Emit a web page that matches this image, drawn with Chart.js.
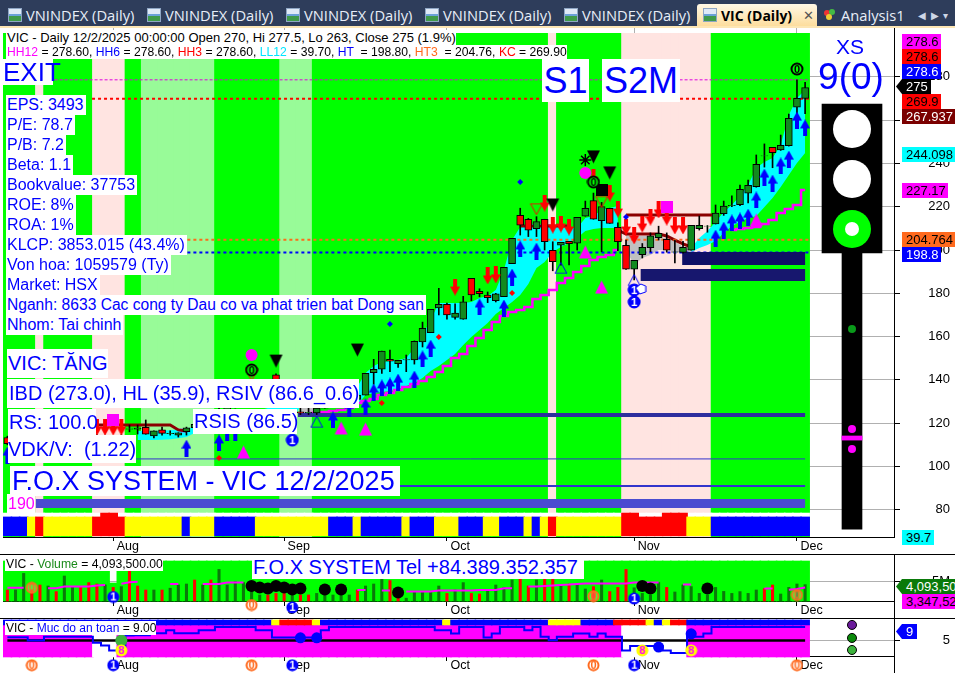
<!DOCTYPE html>
<html><head><meta charset="utf-8">
<script src="https://cdn.jsdelivr.net/npm/chart.js@4"></script>
<style>
html,body{margin:0;padding:0;background:#fff;width:955px;height:673px;overflow:hidden;font-family:"Liberation Sans",Arial,sans-serif}
canvas{position:absolute;left:0;display:block}
.t{position:absolute;background:#fff;color:#0000ff;white-space:pre;z-index:5;line-height:1;box-sizing:border-box}
.r{position:absolute;height:1px;background:#000;z-index:6}
.p{position:absolute;left:902px;height:15px;line-height:15px;font-size:13px;padding-left:4px;box-sizing:border-box;z-index:7;white-space:pre;overflow:hidden}
.a{position:absolute;left:896px;width:6px;height:15px;z-index:7;clip-path:polygon(100% 0,0 50%,100% 100%)}
#tabs{position:absolute;left:0;top:0;width:955px;height:27px;background:#2e3d5b;z-index:8;font-family:"Open Sans","Noto Sans",sans-serif}
.tab{position:absolute;top:7px;color:#e8eef8;font-size:14.7px;line-height:17px;white-space:pre}
.ic{position:absolute;top:8px;width:14px;height:14px;background:linear-gradient(#dfe9f7 0 40%,#6aa0d8 40% 60%,#3f9a4a 60%);border:1px solid #8fa6c4;box-sizing:border-box}
</style></head><body>
<div id="tabs">
<div class="ic" style="left:8px"></div><div class="tab" style="left:26px">VNINDEX (Daily)</div>
<div class="ic" style="left:147px"></div><div class="tab" style="left:165px">VNINDEX (Daily)</div>
<div class="ic" style="left:286px"></div><div class="tab" style="left:304px">VNINDEX (Daily)</div>
<div class="ic" style="left:425px"></div><div class="tab" style="left:443px">VNINDEX (Daily)</div>
<div class="ic" style="left:564px"></div><div class="tab" style="left:582px">VNINDEX (Daily)</div>
<div style="position:absolute;left:697px;top:4px;width:120px;height:23px;background:linear-gradient(#fff8e6,#fddc9a);border-radius:3px 3px 0 0"></div>
<div class="ic" style="left:703px"></div>
<div class="tab" style="left:721px;color:#000;font-weight:700;font-size:14px">VIC (Daily)</div>
<div class="tab" style="left:803px;color:#555;font-size:13px">✕</div>
<div style="position:absolute;left:824px;top:10px;width:6px;height:6px;border-radius:3px;background:#e33"></div>
<div style="position:absolute;left:829px;top:9px;width:6px;height:6px;border-radius:3px;background:#4b4"></div>
<div style="position:absolute;left:826px;top:14px;width:6px;height:6px;border-radius:3px;background:#ec3"></div>
<div class="tab" style="left:841px">Analysis1</div>
<div class="tab" style="left:918px;font-size:10px;color:#cdd6e6">◀</div>
<div class="tab" style="left:931px;font-size:10px;color:#cdd6e6">▶</div>
<div class="tab" style="left:943px;font-size:10px;color:#cdd6e6">▾</div>
<div style="position:absolute;left:0;top:26px;width:955px;height:2px;background:#fde6b4"></div>
</div>
<canvas id="c1" width="955" height="527" style="top:27px"></canvas>
<canvas id="c2" width="955" height="64" style="top:554px"></canvas>
<canvas id="c3" width="955" height="54" style="top:619px"></canvas>
<div class="r" style="left:0;top:554px;width:955px"></div>
<div class="r" style="left:0;top:618px;width:955px"></div>
<div id="labels"></div>
<script>
// ---------- candle data (bar index 0 .. 98) ----------
const opens=[113.4,110.6,112,113,112,111,112.5,111.5,113.5,115,113.5,114,113,112,113.5,117.3,117.3,118.1,114.1,116.9,115.2,114.5,116.1,117.9,119.5,121,123.5,126,128,130,132,135,134,142.3,137,134,125.2,124.7,124.7,127,128,129,130,131,133,143.3,144.9,149.5,147.5,149.2,149.2,157.5,161.8,173.3,174.9,168.9,168.1,186.9,180.9,179.2,176.6,178.4,193.7,216,214.2,209.8,214.2,199.9,202.2,204,203.1,215.6,222.8,213.5,219.3,210.5,202.2,191.1,197.8,201.1,205.7,204.9,199,198.9,199.9,209.8,211,212.1,216.8,220.5,220.9,226.2,229.2,243.4,247.4,246.2,248.2,266,270];
const highs=[114,112.5,113.5,114.5,113,113,114,114,115.5,116,115,114.8,114.5,114,114.7,119.2,119.2,121.5,116.5,118.2,116.5,115.6,118.2,120,122,124,127,129,131,133,136,138,137,142.8,139,135.5,127,127,127.5,129,130,131,132,135,143,149.5,153.3,153.8,149,151.5,158,166.7,172.6,182.3,175.5,175.1,178.6,186.9,182.1,180.6,180,192,205.4,219.3,214.6,215.4,214.2,203.8,203.6,204,215.1,222.6,226.3,222,219.3,212.5,204.6,195.2,203,207.9,211,207.9,204.6,204,211.4,215.7,211.3,220.8,222.6,225,230,232.3,243.9,249,247.4,253.1,262.8,278.6,277.5];
const lows=[110,109.5,110.5,111.5,110,110,111,111,113,113,112.5,112,111,110,112.5,116,115,114.9,113.2,114.5,114.5,113.6,114.5,117,118.5,120,122.5,125,127,129,131,133,132,137,133,129,124,124,124,127,127.5,127.5,128,128,133,138,143,143.8,145.8,143.8,147.3,155.2,161.8,170,168.1,168,168,176.6,178.4,175.7,176,178.4,193.7,206.9,206.2,206.2,200,190.4,193,193.1,200,215.6,214.2,199.2,212.3,199.7,191,186.2,196.3,199.2,204.6,199,194,198.5,199.9,209.2,208.2,212,216,220,220.5,221.7,229,238.3,238,246,248,261,263];
const closes=[110.6,111.8,113,112,111,112.5,111.5,113.5,115,113.5,114,113,112,113.5,114.2,117.4,117.8,114.9,116.5,115.3,115.3,115.6,117.9,119.5,121,123.5,126,128,130,132,135,134,136,138,134,130,124.7,125,127,128.5,129,130,131,133,143,144.9,153.3,148.6,149,149.4,157.8,163.8,172.6,174.9,170,170.9,176.1,179.2,179.8,178,179.7,192,205.4,211.5,209.2,213.1,203.8,194.6,203.6,202.9,215.1,219.3,214.2,220,212.3,203.8,191.1,195.2,201.2,206.6,207.7,199.9,199.1,201.2,211.4,211.4,211.1,217,220.3,220.6,228,229.9,239.6,243.5,245,248.4,260.8,270,275];
// ---------- background codes per bar, as runs ----------
const zoneRuns=[['L',4],['P',1],['L',6],['P',4],['L',2],['G',9],['L',8],['G',4],['L',29],['P',1],['L',8],['P',11],['L',12]];
const bandRuns=[['B',3],['Y',1],['R',1],['Y',6],['R',4],['Y',7],['B',1],['Y',3],['B',5],['Y',9],['B',3],['Y',1],['B',5],['Y',1],['B',3],['Y',3],['B',3],['Y',2],['B',3],['Y',1],['B',1],['Y',1],['R',1],['Y',8],['R',8],['Y',3],['B',12]];
const bandTallBars=[12,13,76,77,81,82,83];
const safetyZoneRuns=[['M',11],['W',3],['M',62],['W',8],['M',15]];
const safetyStripRuns=[['B',33],['Y',1],['R',4],['Y',1],['B',15],['Y',1],['B',12],['Y',4],['B',4],['R',4],['Y',1],['B',1],['Y',1],['R',2],['B',15]];
// ---------- bands and lines ----------
const cyanTopA=[116.4,116.4,116.4,116.6,116.8,117.2,117.8,118,119,120,121,122,123,124,125,126,127,128,129,130,130,131,131,132,133,134,135,137,143.2,146.4,148.3,148.7,149.2,150.1,154.7,160.7,167.7,175.5,175.5,175.5,175.5,176,177.8,178.8,181.5,190.8,204.6,210.6,212,212,212,211.5,211.1,210.2,210.2,214.8,215.7,218.5,219.4,220.3];
const cyanBotA=[112.2,112.2,112.2,112.4,112.6,113,113.6,115.5,116,116.5,117,117.5,118,118.5,119,119.5,120,120.5,121,121.5,128,128,128,128,128,128,128,128.5,133,134,134.4,134.9,135.8,137.2,138.6,140.9,144.1,146.4,149.2,152,156.1,159.8,163,166.3,170.4,173.2,176,179.2,184.3,191.7,194.5,199.1,201.4,203.2,205.5,208.8,209.7,210.2,210.2,210.2];
const cyanTopB=[200.9,205.5,208.8,212.9,217.6,220.8,224.9,230,237.9,240.6,242.5,248.5,262.4,270.2,273.9];
const cyanBotB=[199.1,200.9,202.3,204.2,207.9,211.1,212.9,214.8,215.7,219.9,224,229.1,234.6,240.2,244.8];
const greyTopA=[127,127,127],greyBotA=[124.7,124.7,124.7];
const greyTopB=[206.9,206.5,206.5,206.5,206,205.5,204.2,201.4,200];
const greyBotB=[200,193.1,196.3,197.7,200,200,199.1,199.1,199.1];
const stopA=[124.7,124.7,125.2,125.6,126.1,127,129.3,130.2,131.2,133,133.9,135.3,136.7,138.1,139.5,141.3,143.6,146.4,150.1,152,155.7,159.4,163,166.7,169.5,171.4,172.3,173.7,177.4,179.2,181.5,184.8,187.1,189.8,192.6,195.4,196.8,197.7,200];
const stopB=[209.2,209.7,210.2,210.6,212,213.9,217.1,218.9,220.8,227.7];
const stopC=[116.9,116.4];
const trendA=[119.2,119.2,119.2,119.2,119.2,119.2,119.2,119.2,119.2,119.2,116.9,116.4];
const trendB=[211.1,211.1,211.1,211.1,211.1,211.1,211.1];
const trendC=[216.2,216.2,216.2,216.2,216.2,216.2,216.2,216.2,216.2,216.2,216.2,216.2];
const trendD=[209.2,207.4,207.4,207.4,207.4,207.4,206.5,204.6,202.8,201.4];
// ---------- horizontal levels ----------
const dottedLevels=[278.6,269.9,204.76,198.8];
const barLevels=[196.1,188.5,123.8,103.5,91,82.9];
const barLevelStart=[82.9,77.8,35.7,15.8,48.2,3.5];
// ---------- markers ----------
const upBars=[0,22,26,27,28,40,42,44,45,46,47,48,50,51,52,58,61,62,63,65,87,88,89,90,91,92,93,94,95,96,97,98];
const upVals=[105.3,108.5,110.9,115.5,115.5,121.5,127,127.5,134.4,136.3,137.2,139,140.4,149.7,154.7,173.7,173.2,187.5,200.5,199.5,205.5,209.2,212.5,213.4,215.2,223.1,233.7,230.9,238.8,242,260,256.4];
const downBars=[11,12,13,14,55,59,60,66,67,68,69,72,74,75,76,77,78,79,80,81,82,83];
const downVals=[118.2,118.2,118.2,118.2,182.9,188,188.5,221.7,211.5,212,210.6,233.7,226.3,218.9,210.6,206.5,212,215.2,218.5,215.2,211.1,211.1];
const blackTriBars=[33,43,67,72,74],blackTriVals=[148.7,153.8,220.8,243,235.6];
const magTriBars=[29,41,44,71,73,92],magTriVals=[106.7,117.8,117.3,199.1,182.9,213.9];
const redOutBars=[30,65,73],redOutVals=[142.3,218.9,222.2];
const blueOutBars=[38,68,77],blueOutVals=[120.6,191.7,186.1];
const magDotBars=[30,71],magDotVals=[151.5,235.6];
const magSqBars=[13,81],magSqVals=[121.5,219.9];
const blackSqBars=[73],blackSqVals=[227.7];
const starBars=[71],starVals=[241.6];
const blueDiaBars=[47,63,76],blueDiaVals=[165.8,231.4,215.2];
const redDiaBars=[26,46,53,62],redDiaVals=[103.9,129.3,159.8,180.1];
const zeroBars=[30,72,97],zeroVals=[144.6,231.4,283.6];
const oneBars=[35,77,77],oneVals=[112.2,181.5,176];
const cursorBars=[77.8],cursorVals=[182];
// ---------- side gauge, on the same scales ----------
const gaugeBar=103.76;
const gaugeBox=[198.6,267.4],gaugePole=[71.1,198.6],gaugeDash=[112.2,114.1];
const lampWhite=[255.9,232.8],lampGreen=[209.7],lampCore=[209.7],gaugeGreen=[163.5],gaugeMagenta=[117.3,108.1];
// ---------- axes ----------
const monthNames=['Aug','Sep','Oct','Nov','Dec'];
const monthBars=[13,34,54,77,97];
const priceTicks=[80,100,120,140,160,180,200,220,240,260,280];
// ---------- volume pane ----------
const volumes=[2.75,2.75,6.9,2.75,4,3.75,2.35,6.25,3.6,3.6,4.6,4.25,4,3.4,3.6,7.5,3.75,2.75,2.75,2.75,3.2,4,4.25,5.25,4,5.25,7.9,4,4.85,4.6,2.75,1.5,1.5,1.9,1.9,1.5,1.5,1.5,1.9,1.9,1.5,1.5,1.5,2.75,3.75,4.25,5.4,5.1,1.5,0.7,2.35,2.35,2.35,3.75,1.9,2.75,4.6,1.9,1.75,2.75,4,3.4,5.25,5.5,3.75,5.25,5.5,5.5,3.75,4.25,4.4,3,3.6,5.25,2.35,3.4,7.9,3.3,1.9,1.5,4.6,3.4,2.25,4,3.6,1.9,1.5,3.4,2.4,1.9,2.35,1.9,2.75,3.1,4,1.75,3.4,4.25,4.09];
const volumeReds=[0,3,4,6,9,10,11,13,15,16,17,19,23,25,32,33,34,36,37,43,47,48,54,57,58,63,64,66,67,69,72,74,75,76,81,93,94];
const volMaBars=[0,1,2,3,5,6,7,8,9,10,11,12,13,14,15,16,17,20,21,22,24,25,26,27,28,29,30,43,44,45,46,47,48,49,50,51,52,53,54,55,56,57,58,59,60,61,62,63,64,65,66,67,68,69,70,71,72,73,74,75,76,77,78,79,80,81,83,84,85,93,94,95,96,97,98];
const volMaVals=[3.33,3.33,3.33,null,3.17,3.17,3.6,3.6,3.6,3.6,3.9,4,null,4.3,4.7,4.8,null,4.25,4.25,null,4.25,4.25,4.25,4.6,4.6,4.6,null,2.75,2.75,null,2.6,2.6,null,2.35,2.35,2.35,2.35,2.6,2.6,2.6,2.6,2.6,2.75,2.75,2.75,3.2,3.2,null,3.6,3.6,3.75,3.9,4,4.1,4.25,4.4,4.4,4.4,4.4,4.4,4.4,4.6,4.6,4.6,4.6,null,4.1,4.1,null,3.1,3.1,null,2.8,3,3.35];
const volDotBars=[30,31,32,33,34,35,36,39,41,48,78,79,86];
const volDotVals=[3.75,3.4,3.15,3.75,3.4,2.9,3.15,2.9,2.9,2.15,3.75,3.15,3.15];
const volZeroBars=[3,30,72,97],volZeroVals=[3.3,-1,1.2,1.5];
const volOneBars=[13,35,77],volOneVals=[1,-1.6,0.6];
const volTicks=[5];
// ---------- safety pane ----------
const safety=[6,6,6,5,5,6.1,6.1,6.1,6.1,6.1,6.1,4.3,3.5,2,2,6.5,6.6,6.6,7.2,7.2,8.1,7.2,7.2,7.2,8.1,8.1,9.1,9.1,9.1,9.1,9.1,8.1,8.1,5.9,5.9,5.9,5.9,5.9,5.9,8.1,9.1,9.1,9.1,9.1,9.1,9.1,9.1,9.1,9.1,9.1,9.1,9.1,9.1,8.1,8.1,7.1,9.1,9.1,9.1,5.9,7.1,9.1,9.1,9.1,8.1,9.1,6.1,5.1,6.1,6.1,7.1,7.1,6.1,7.1,6.1,6.1,2,3.3,3.3,3.3,3.3,2,1.2,1.2,7.1,6.1,7.1,9.1,9.1,9.1,9.1,9.1,9.1,9.1,9.1,9.1,9.1,9.1,9.1];
const safetyMid=5;
const safeBlueBars=[36,38,80,84],safeBlueVals=[5.8,5.8,3,7];
const safeGreenBars=[14],safeGreenVals=[5];
const safeEightBars=[14,78,84],safeEightVals=[2,2,2];
const safeZeroBars=[3,30,72,97],safeZeroVals=[-2.5,-2.5,-2.5,-2.5];
const safeOneBars=[13,35,77],safeOneVals=[-2.5,-2.5,-2.5];
const safeSideVals=[9.7,5.76,2.12];
const safeTicks=[5];
// ---------- text ----------
const stats=['EPS: 3493','P/E: 78.7','P/B: 7.2','Beta: 1.1','Bookvalue: 37753','ROE: 8%','ROA: 1%','KLCP: 3853.015 (43.4%)','Von hoa: 1059579 (Ty)','Market: HSX','Nganh: 8633 Cac cong ty Dau co va phat trien bat Dong san','Nhom: Tai chinh'];
const pills=[['278.6','#ff00ff','#000',34,39],['278.6','#ff0000','#000',49,39],['278.6','#0000ff','#fff',64,39],['275','#000','#fff',79,29],['269.9','#ff0000','#000',94,39],['267.937','#7b0000','#fff',109,53],['244.098','#00ffff','#000',147,53],['227.17','#ff00ff','#000',183,46],['204.764','#ff6a1e','#000',232,53],['198.8','#0000ff','#fff',247,39],['39.7','#00ffff','#000',530,32],['4,093,500','#0a7a0a','#fff',579,53],['3,347,520','#ff00ff','#000',594,53],['9','#0000ff','#fff',624,15]];

// ---------- helpers ----------
const expand=r=>r.flatMap(([c,n])=>Array(n).fill(c));
const seq=(start,vals)=>vals.map((y,k)=>({x:start+k,y}));
const pick=(b,v)=>b.map((x,k)=>({x,y:v[k]}));
const Z={L:'#00ff00',G:'#98fb98',P:'#ffe4e1',B:'#0000ff',Y:'#ffff00',R:'#ff0000',M:'#ff00ff',W:'#ffffff'};
function img(w,h,f){const c=document.createElement('canvas');c.width=w;c.height=h;f(c.getContext('2d'),w,h);return c}
const arrow=(col,up)=>img(10,17,(g,w,h)=>{g.fillStyle=col;g.beginPath();
 if(up){g.moveTo(5,0);g.lineTo(10,9);g.lineTo(7,9);g.lineTo(7,17);g.lineTo(3,17);g.lineTo(3,9);g.lineTo(0,9)}
 else{g.moveTo(5,17);g.lineTo(10,8);g.lineTo(7,8);g.lineTo(7,0);g.lineTo(3,0);g.lineTo(3,8);g.lineTo(0,8)}
 g.closePath();g.fill()});
const tri=(fill,stroke,down,w0,h0)=>img(w0,h0,(g,w,h)=>{g.beginPath();
 if(down){g.moveTo(1,1);g.lineTo(w-1,1);g.lineTo(w/2,h-1)}else{g.moveTo(w/2,1);g.lineTo(w-1,h-1);g.lineTo(1,h-1)}
 g.closePath();if(fill){g.fillStyle=fill;g.fill()}if(stroke){g.strokeStyle=stroke;g.lineWidth=1;g.stroke()}});
const badge=(d,bg,ring,fg,r)=>img(2*r+2,2*r+2,(g)=>{g.beginPath();g.arc(r+1,r+1,r-0.5,0,7);g.fillStyle=bg;g.fill();g.lineWidth=2;g.strokeStyle=ring;g.stroke();
 g.fillStyle=fg;g.font='bold 11px "Liberation Sans"';g.textAlign='center';g.textBaseline='middle';g.fillText(d,r+1,r+1.5)});
const square=(c,s)=>img(s,s,g=>{g.fillStyle=c;g.fillRect(0,0,s,s)});
const cursorMark=img(12,12,g=>{g.fillStyle='#fff';g.strokeStyle='#0000ff';g.lineWidth=1;g.beginPath();g.moveTo(1,5);g.lineTo(6,1);g.lineTo(11,3);g.lineTo(11,9);g.lineTo(5,11);g.closePath();g.fill();g.stroke()});
const pts=(data,style,extra={})=>Object.assign({type:'line',showLine:false,data,pointStyle:style,pointRadius:7,pointBorderWidth:0,pointBackgroundColor:'#000',pointBorderColor:'#000'},extra);
const dots=(data,col,r,extra={})=>pts(data,'circle',Object.assign({pointRadius:r,pointBackgroundColor:col,pointBorderColor:col},extra));
const line=(data,col,w,extra={})=>Object.assign({type:'line',data,borderColor:col,borderWidth:w,pointRadius:0,spanGaps:false},extra);
const bar=(data,col,w,extra={})=>Object.assign({type:'bar',data,backgroundColor:col,barThickness:w,grouped:false,borderWidth:0,borderSkipped:false},extra);
const area=(top,bot,start,col)=>[line(seq(start,top),'rgba(0,0,0,0)',0),line(seq(start,bot),'rgba(0,0,0,0)',0,{fill:'-1',backgroundColor:col})];
const FONT={family:'"Liberation Sans",Arial,sans-serif',size:12.5};
const X_MIN=-0.538,X_MAX=108.92;
function xAxis(extra,pad){return Object.assign({type:'linear',offset:false,min:X_MIN,max:X_MAX,
  afterBuildTicks:s=>{s.ticks=monthBars.map(v=>({value:v}))},
  ticks:{autoSkip:false,maxRotation:0,align:'start',padding:pad,color:'#000',font:FONT,callback:v=>' '+(monthNames[monthBars.indexOf(v)]||'')},
  grid:{offset:false,drawOnChartArea:false,color:'#000',tickLength:4},
  border:{display:true,color:'#000',width:1}},extra)}
function yAxis(min,max,ticks,fmt){return {type:'linear',position:'right',min,max,
  afterFit:s=>{s.width=56;s.paddingTop=0;s.paddingBottom=0},afterBuildTicks:s=>{s.ticks=ticks.map(v=>({value:v}))},
  ticks:{crossAlign:'far',color:'#000',font:Object.assign({},FONT,{size:13}),padding:0,callback:fmt},
  grid:{color:'#b0b0b0',borderDash:[1,3],tickColor:'#000',tickBorderDash:[],tickLength:6},
  border:{display:true,color:'#000',width:1}}}
function make(id,datasets,scales){
  datasets.forEach((d,i)=>{d.order=datasets.length-i});
  return new Chart(document.getElementById(id),{type:'bar',data:{datasets},options:{
    responsive:false,animation:false,devicePixelRatio:1,
    layout:{autoPadding:false,padding:{left:3,right:5,top:0,bottom:0}},
    plugins:{legend:{display:false},tooltip:{enabled:false},title:{display:false}},
    scales}})}

// ---------- main pane ----------
const N=opens.length,idx=[...Array(N).keys()];
const zones=expand(zoneRuns),band=expand(bandRuns);
const PANE_LO=67.44,PANE_HI=303;
const isUp=i=>closes[i]>=opens[i];
const main=[
  bar(idx.map(i=>({x:i,y:[PANE_LO,300.1]})),zones.map(c=>Z[c]),9),
  bar(idx.map(i=>({x:i,y:[76.7,78.5]})),'#ffffff',9),
  bar(idx.map(i=>({x:i,y:[68,bandTallBars.includes(i)?78.5:76.7]})),band.map(c=>Z[c]),9),
  ...area(cyanTopA,cyanBotA,16,'#00ffff'),
  ...area(cyanTopB,cyanBotB,84,'#00ffff'),
  ...area(greyTopA,greyBotA,36,'#c0c0c0'),
  ...area(greyTopB,greyBotB,76,'#c0c0c0'),
  line(seq(37,stopA),'#ff00ff',2.5,{stepped:'middle'}),
  line(seq(89,stopB),'#ff00ff',2.5,{stepped:'middle'}),
  line(seq(21,stopC),'#ff00ff',2.5,{stepped:'middle'}),
  line(seq(11,trendA),'#8b0000',3),
  line(seq(63,trendB),'#8b0000',3),
  line(seq(76,trendC),'#8b0000',3),
  line(seq(75,trendD),'#8b0000',3),
  line([{x:5.8,y:dottedLevels[0]},{x:98.5,y:dottedLevels[0]}],'#e000e0',1,{borderDash:[3,2]}),
  line([{x:10.4,y:dottedLevels[1]},{x:98.5,y:dottedLevels[1]}],'#ff0000',2,{borderDash:[3,3]}),
  line([{x:0,y:dottedLevels[2]},{x:98.5,y:dottedLevels[2]}],'#ff6a1e',2,{borderDash:[3,3]}),
  line([{x:0,y:dottedLevels[3]},{x:98.5,y:dottedLevels[3]}],'#0000ff',2,{borderDash:[3,3]}),
  line([{x:barLevelStart[0],y:barLevels[0]},{x:98,y:barLevels[0]}],'#0f0f66',13),
  line([{x:barLevelStart[1],y:barLevels[1]},{x:98,y:barLevels[1]}],'#17176e',12),
  line([{x:barLevelStart[2],y:barLevels[2]},{x:98,y:barLevels[2]}],'#2e2e9e',4),
  line([{x:barLevelStart[3],y:barLevels[3]},{x:98,y:barLevels[3]}],'#3333cc',1),
  line([{x:barLevelStart[4],y:barLevels[4]},{x:98,y:barLevels[4]}],'#3333cc',2),
  line([{x:barLevelStart[5],y:barLevels[5]},{x:98,y:barLevels[5]}],'#4b4bd0',9),
  bar(idx.map(i=>({x:i,y:[lows[i],highs[i]]})),'#000',1),
  bar(idx.map(i=>({x:i,y:[Math.min(opens[i],closes[i]),Math.max(opens[i],closes[i])]})),idx.map(i=>isUp(i)?'#128a1e':'#ff0000'),7,{borderWidth:1,borderColor:'#000'}),
  pts(pick(upBars,upVals),arrow('#0000ff',true)),
  pts(pick(downBars,downVals),arrow('#ff0000',false)),
  pts(pick(magTriBars,magTriVals),tri('#ff00ff',null,false,15,15)),
  pts(pick(blackTriBars,blackTriVals),tri('#000',null,true,15,15)),
  pts(pick(redOutBars,redOutVals),tri(null,'#ff0000',true,14,13)),
  pts(pick(blueOutBars,blueOutVals),tri(null,'#0000ff',false,14,13)),
  dots(pick(magDotBars,magDotVals),'#ff00ff',6),
  pts(pick(magSqBars,magSqVals),square('#ff00ff',12)),
  pts(pick(blackSqBars,blackSqVals),square('#000',12)),
  pts(pick(starBars,starVals),'star',{pointRadius:6,pointBorderWidth:1.5}),
  pts(pick(blueDiaBars,blueDiaVals),'rectRot',{pointRadius:3,pointBackgroundColor:'#0000ff',pointBorderColor:'#0000ff'}),
  pts(pick(redDiaBars,redDiaVals),'rectRot',{pointRadius:3,pointBackgroundColor:'#ff0000',pointBorderColor:'#ff0000'}),
  pts(pick(zeroBars,zeroVals),badge('0','#00ff00','#000','#000',6)),
  pts(pick(oneBars,oneVals),badge('1','#0000ff','#0000ff','#fff',6)),
  pts(pick(cursorBars,cursorVals),cursorMark),
  bar([{x:gaugeBar,y:gaugeBox}],'#000',60),
  bar([{x:gaugeBar,y:gaugePole}],'#000',20),
  bar([{x:gaugeBar,y:gaugeDash}],'#ff00ff',20),
  dots(pick([gaugeBar,gaugeBar],lampWhite),'#fff',19),
  dots(pick([gaugeBar],lampGreen),'#00ff00',19),
  dots(pick([gaugeBar],lampCore),'#fff',7),
  dots(pick([gaugeBar],gaugeGreen),'#0a9a1a',4),
  dots(pick([gaugeBar,gaugeBar],gaugeMagenta),'#ff00ff',4),
];
const mx=xAxis({afterFit:s=>{s.height=17}},-2);
mx.grid={offset:false,drawOnChartArea:true,color:'#b0b0b0',borderDash:[1,3],tickColor:'#000',tickBorderDash:[],tickLength:4};
make('c1',main,{x:mx,y:yAxis(PANE_LO,PANE_HI,priceTicks,v=>String(v))});

// ---------- volume pane ----------
const vol=[
  bar(idx.map(i=>({x:i,y:[0,i===13?4.5:10]})),'#00ff00',9),
  bar(idx.map(i=>({x:i,y:volumes[i]})),idx.map(i=>volumeReds.includes(i)?'#ff0000':'#0a7a0a'),2.4),
  line(pick(volMaBars,volMaVals),'#ff00ff',2),
  dots(pick(volDotBars,volDotVals),'#000',6),
  pts(pick(volZeroBars,volZeroVals),badge('0','rgba(255,255,255,0.25)','#ff6a1e','#ff6a1e',5.5)),
  pts(pick(volOneBars,volOneVals),badge('1','#0000ff','#0000ff','#fff',5.5)),
];
make('c2',vol,{x:xAxis({position:{y:0}},-2),y:yAxis(-4.25,11.75,volTicks,v=>v+'M')});

// ---------- safety pane ----------
const safetyZones=expand(safetyZoneRuns),safetyStrip=expand(safetyStripRuns);
const safe=[
  bar(idx.map(i=>({x:i,y:[0,9.7]})),safetyZones.map(c=>Z[c]),9),
  bar(idx.map(i=>({x:i,y:[9.7,11.2]})),safetyStrip.map(c=>Z[c]),9),
  line(idx.map(i=>({x:i,y:safetyMid})),'#000',2.5),
  line(idx.map(i=>({x:i,y:safety[i]})),'#0000ff',2,{stepped:'middle'}),
  dots(pick(safeBlueBars,safeBlueVals),'#0000ff',5.5),
  dots(pick(safeGreenBars,safeGreenVals),'#3cb33c',6),
  pts(pick(safeEightBars,safeEightVals),badge('8','#ffff00','#ffff00','#ff00ff',5.5)),
  pts(pick(safeZeroBars,safeZeroVals),badge('0','#fff','#ff6a1e','#ff6a1e',5.5)),
  pts(pick(safeOneBars,safeOneVals),badge('1','#0000ff','#0000ff','#fff',5.5)),
  dots(pick([gaugeBar],[safeSideVals[0]]),'#6a1a9a',4.5,{pointBorderColor:'#000',pointBorderWidth:1}),
  dots(pick([gaugeBar],[safeSideVals[1]]),'#0a8a0a',4.5,{pointBorderColor:'#000',pointBorderWidth:1}),
  dots(pick([gaugeBar],[safeSideVals[2]]),'#3cb33c',4.5,{pointBorderColor:'#000',pointBorderWidth:1}),
];
make('c3',safe,{x:xAxis({position:{y:0}},-3),y:yAxis(-4.85,11.5,safeTicks,v=>String(v))});

// ---------- overlays ----------
const L=document.getElementById('labels');
function T(x,y,w,h,size,html,style=''){const d=document.createElement('div');d.className='t';
 d.style.cssText=`left:${x}px;top:${y}px;${w?`width:${w}px;`:''}height:${h}px;font-size:${size}px;line-height:${h}px;${style}`;
 d.innerHTML=html;L.appendChild(d);return d}
const c=(col,s)=>`<span style="color:${col}">${s}</span>`;
const H='color:#000;padding-left:1px;';
T(6,30,0,15,13,'VIC - Daily 12/2/2025 00:00:00 Open 270, Hi 277.5, Lo 263, Close 275 (1.9%)',H);
T(6,45,0,14,12.15,`${c('#ff00ff','HH12')} = 278.60, ${c('#0000ff','HH6')} = 278.60, ${c('#ff0000','HH3')} = 278.60, ${c('#00e5ff','LL12')} = 39.70, ${c('#0000ff','HT')}  = 198.80, ${c('#ff6a1e','HT3')}  = 204.76, ${c('#ff0000','KC')} = 269.90`,H);
T(3,59,50,26,26,'EXIT');
T(542,59,47,43,36,'S1','text-align:center');
T(602,59,78,43,36,'S2M','text-align:center');
T(830,36,40,22,21,'XS','text-align:center;background:transparent');
T(812,58,78,38,37,'9(0)','text-align:center;background:transparent');
stats.forEach((s,k)=>T(6,95+20*k,0,20,k===10?15.6:16,s,'padding:0 2px 0 1px'));
T(7,349,101,29,20,'VIC: TĂNG','padding-left:1px');
T(7,379,352,29,20,'IBD (273.0), HL (35.9), RSIV (86.6_0.6)','padding-left:2px');
T(8,409,88,26,20,'RS: 100.0','padding-left:1px');
T(193,409,104,25,20,'RSIS (86.5)','padding-left:1px');
T(8,435,128,28,20,'VDK/V:  (1.22)','padding-left:0px');
T(10,466,390,30,27,'F.O.X SYSTEM - VIC 12/2/2025','padding-left:2px');
T(7,494,28,19,16,'190','color:#ff00ff;padding-left:1px');
T(252,556,332,23,20,'F.O.X SYSTEM Tel +84.389.352.357','padding-left:1px');
T(5,558,0,13,12.2,`VIC - ${c('#1a8a1a','Volume')} = 4,093,500.00`,H);
T(5,621,0,14,12,`VIC - ${c('#0000ff','Muc do an toan')} = 9.00`,H);
pills.forEach(([s,bg,fg,y,w])=>{const d=document.createElement('div');d.className='p';
 d.style.cssText=`top:${y}px;width:${w}px;background:${bg};color:${fg}`;d.textContent=s;L.appendChild(d);
 if(s==='275'||s==='4,093,500'||s==='9'){const a=document.createElement('div');a.className='a';a.style.cssText=`top:${y}px;background:${bg}`;L.appendChild(a)}});
</script>
</body></html>
